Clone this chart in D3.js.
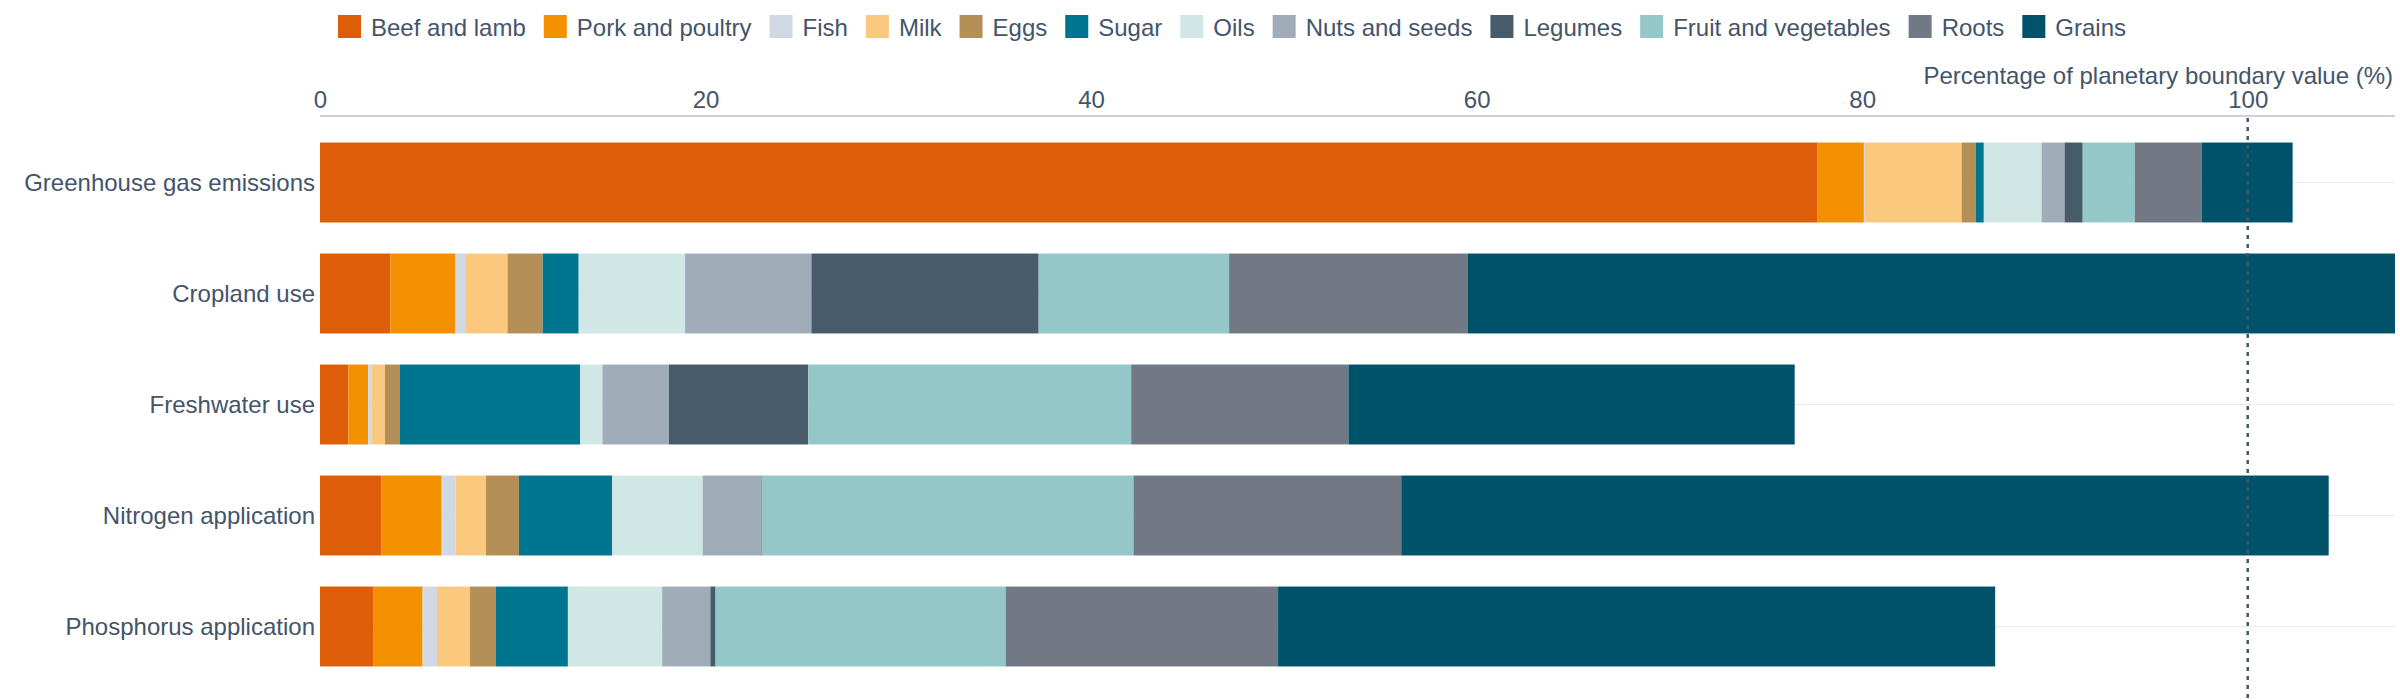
<!DOCTYPE html>
<html><head><meta charset="utf-8">
<script src="https://cdn.jsdelivr.net/npm/d3@7"></script>
<style>body{margin:0;background:#fff}svg{font-family:"Liberation Sans",Arial,sans-serif}</style>
</head><body><svg id="c" width="2400" height="700"></svg>
<script>
const categories = ["Greenhouse gas emissions","Cropland use","Freshwater use","Nitrogen application","Phosphorus application"];
const seriesNames = ["Beef and lamb","Pork and poultry","Fish","Milk","Eggs","Sugar","Oils","Nuts and seeds","Legumes","Fruit and vegetables","Roots","Grains"];
const colors = ["#de5d09","#f39000","#cfd8e3","#fbc97e","#b48f57","#00758f","#d1e7e5","#a0adb9","#485b6b","#94c8c8","#727985","#00526a"];
const beef    = [77.69, 3.65, 1.47, 3.18, 2.78];
const pork    = [2.40, 3.38, 1.03, 3.13, 2.54];
const fish    = [0.05, 0.51, 0.16, 0.72, 0.75];
const milk    = [5.02, 2.19, 0.71, 1.58, 1.71];
const eggs    = [0.74, 1.82, 0.76, 1.71, 1.35];
const sugar   = [0.41, 1.87, 9.37, 4.84, 3.73];
const oils    = [3.00, 5.52, 1.15, 4.69, 4.89];
const nuts    = [1.19, 6.55, 3.45, 3.06, 2.50];
const legumes = [0.94, 11.79, 7.23, 0.04, 0.27];
const fruitveg= [2.70, 9.88, 16.75, 19.25, 15.05];
const roots   = [3.47, 12.39, 11.27, 13.89, 14.13];
const grains  = [4.72, 52.0, 23.15, 48.11, 37.2];
const ticks = [0,20,40,60,80,100];
const seriesValues = [beef,pork,fish,milk,eggs,sugar,oils,nuts,legumes,fruitveg,roots,grains];

const svg = d3.select("#c");
const txt = "#44546a";
const x = d3.scaleLinear().domain([0,107.9]).range([320,2400]);
const y = d3.scaleBand().domain(categories).range([127,682]).paddingInner(0.28).paddingOuter(0.14);

const rows = categories.map((c,i)=>{const o={cat:c}; seriesNames.forEach((s,j)=>o[s]=seriesValues[j][i]); return o;});
const stack = d3.stack().keys(seriesNames)(rows);

svg.append("defs").append("clipPath").attr("id","clip").append("rect").attr("x",320).attr("y",0).attr("width",2075).attr("height",700);

// gridlines
svg.append("g").selectAll("line").data(categories).join("line")
  .attr("x1",320).attr("x2",2395).attr("y1",d=>y(d)+y.bandwidth()/2).attr("y2",d=>y(d)+y.bandwidth()/2)
  .attr("stroke","#e6e9ee").attr("stroke-width",1);

const g = svg.append("g").attr("clip-path","url(#clip)");
stack.forEach((layer,j)=>{
  g.append("g").attr("fill",colors[j]).selectAll("rect").data(layer).join("rect")
    .attr("x",d=>x(d[0])).attr("width",d=>Math.max(0,x(d[1])-x(d[0])))
    .attr("y",d=>y(d.data.cat)).attr("height",y.bandwidth());
});

// axis
const ax = svg.append("g").attr("transform","translate(0,116)").call(d3.axisTop(x).tickValues(ticks).tickSize(0).tickPadding(8));
ax.select(".domain").attr("stroke","#ccd1d9").attr("stroke-width",2).attr("d","M320,0H2395");
ax.selectAll("text").attr("fill",txt).style("font-size","24px").style("font-family","Liberation Sans, Arial, sans-serif");

svg.append("text").attr("x",2393).attr("y",84).attr("text-anchor","end").attr("fill",txt).style("font-size","24px")
  .text("Percentage of planetary boundary value (%)");

// 100 line
svg.append("line").attr("x1",x(100)).attr("x2",x(100)).attr("y1",118).attr("y2",700)
  .attr("stroke","#44546a").attr("stroke-width",2.5).attr("stroke-dasharray","4,5");

// category labels
svg.append("g").selectAll("text").data(categories).join("text")
  .attr("x",315).attr("y",d=>y(d)+y.bandwidth()/2).attr("dy","0.35em").attr("text-anchor","end")
  .attr("fill",txt).style("font-size","24px").text(d=>d);

// legend
const lg = svg.append("g");
let lx = 338;
seriesNames.forEach((s,j)=>{
  lg.append("rect").attr("x",lx).attr("y",15).attr("width",23).attr("height",23).attr("fill",colors[j]);
  const t = lg.append("text").attr("x",lx+33).attr("y",36).attr("fill",txt).style("font-size","24px").text(s);
  lx += 33 + t.node().getComputedTextLength() + 18;
});
</script></body></html>
